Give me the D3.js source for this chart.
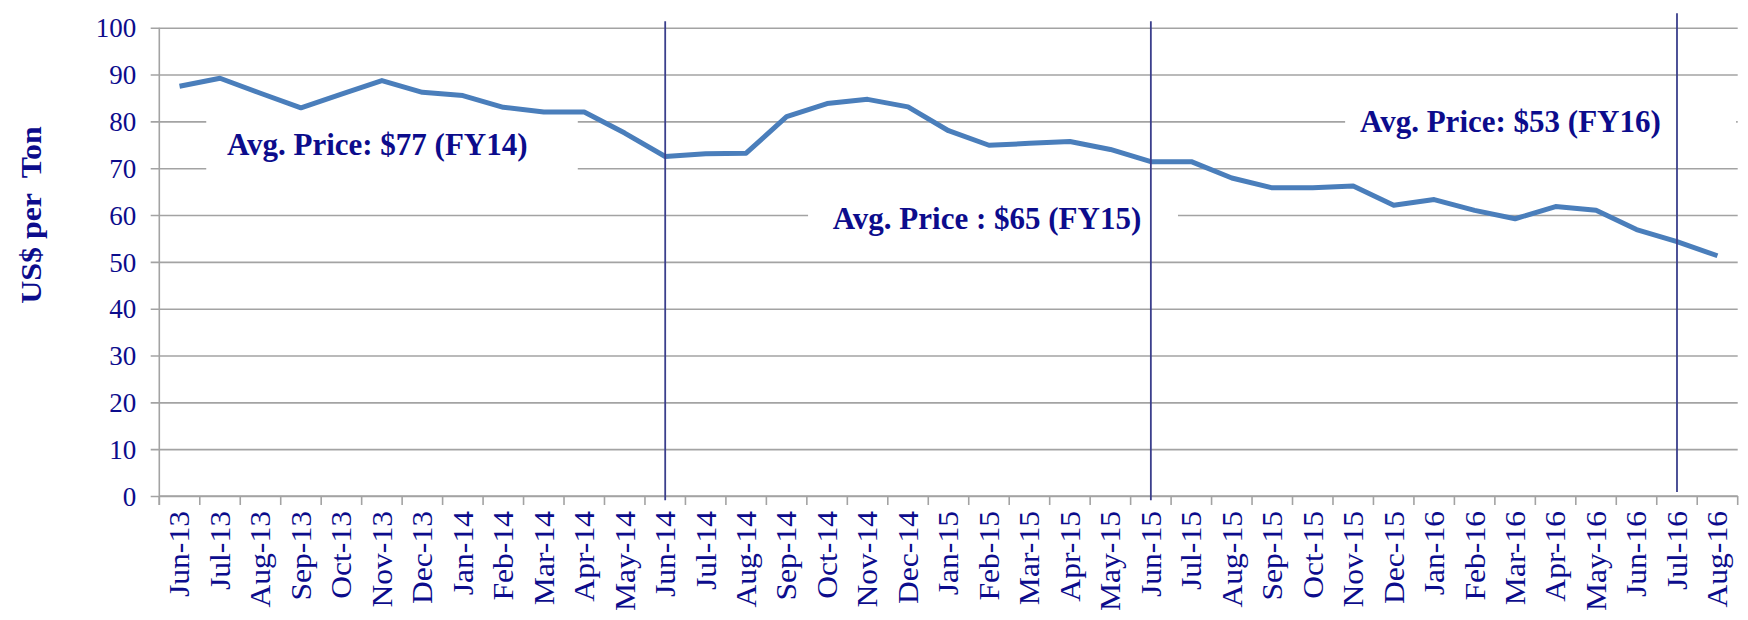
<!doctype html>
<html>
<head>
<meta charset="utf-8" />
<title>US$ per Ton</title>
<script src="https://cdn.jsdelivr.net/npm/d3@7/dist/d3.min.js"></script>
<style>
  body { margin: 0; background: #fff; }
  text { font-family: "Liberation Serif", "Times New Roman", serif; }
</style>
</head>
<body>
<script type="text/javascript">

 // monthly categories
 var months = ["Jun-13","Jul-13","Aug-13","Sep-13","Oct-13","Nov-13","Dec-13","Jan-14","Feb-14","Mar-14","Apr-14","May-14",
               "Jun-14","Jul-14","Aug-14","Sep-14","Oct-14","Nov-14","Dec-14","Jan-15","Feb-15","Mar-15","Apr-15","May-15",
               "Jun-15","Jul-15","Aug-15","Sep-15","Oct-15","Nov-15","Dec-15","Jan-16","Feb-16","Mar-16","Apr-16","May-16",
               "Jun-16","Jul-16","Aug-16"];

 // price, US$ per ton
 var price = [87.5, 89.2, 86.0, 82.9, 85.8, 88.7, 86.2, 85.5, 83.0, 82.0, 82.0, 77.5,
              72.5, 73.1, 73.2, 81.0, 83.8, 84.7, 83.1, 78.0, 74.9, 75.3, 75.7, 74.0,
              71.4, 71.4, 67.9, 65.8, 65.8, 66.2, 62.1, 63.3, 61.0, 59.2, 61.8, 61.0,
              56.9, 54.3, 51.3];

 var yTicks = [0, 10, 20, 30, 40, 50, 60, 70, 80, 90, 100];

 // fiscal year boundaries
 var fyMarks = ["Jun-14", "Jun-15", "Jul-16"];

 var avgLabels = ["Avg. Price: $77 (FY14)", "Avg. Price : $65 (FY15)", "Avg. Price: $53 (FY16)"];

 var w = 1748, h = 620;
 var pLeft = 159.3, pRight = 1737.7, pTop = 27.7, pBottom = 496;
 var navy = "#0c0c8c";

 var svg = d3.select("body").append("svg")
     .attr("width", w)
     .attr("height", h);

 var xScale = d3.scaleBand()
     .domain(months)
     .range([pLeft, pRight])
     .padding(0);

 // position along the axis in category units (for annotation placement)
 var uScale = d3.scaleLinear()
     .domain([0, months.length])
     .range([pLeft, pRight]);

 var yScale = d3.scaleLinear()
     .domain([0, 100])
     .range([pBottom, pTop]);

 // gridlines + y ticks
 svg.append("g")
    .attr("transform", "translate(" + pLeft + ",0)")
    .call(d3.axisLeft(yScale).tickValues(yTicks).tickSize(-(pRight - pLeft)).tickSizeOuter(0).tickPadding(0))
    .call(function(g){
        g.select(".domain").remove();
        g.selectAll(".tick line")
         .attr("x1", -8.6)
         .attr("stroke", "#a3a3a3")
         .attr("stroke-width", 1.6);
        g.selectAll(".tick text")
         .attr("x", -23)
         .attr("dy", "0.34em")
         .attr("fill", navy)
         .attr("font-size", "27px")
         .attr("font-family", "Liberation Serif, Times New Roman, serif");
    });

 // layout for the average price boxes (category units / price units)
 var boxes = [
     {u0: 1.16, u1: 10.34, v0: 68.5, v1: 81.0, tu: 1.67, tv: 72.8},
     {u0: 16.03, u1: 25.17, v0: 52.5, v1: 66.4, tu: 16.64, tv: 57.1},
     {u0: 29.30, u1: 38.96, v0: 73.9, v1: 85.6, tu: 29.67, tv: 77.8}
 ];

 svg.selectAll("rect.box")
    .data(boxes)
    .enter()
    .append("rect")
    .attr("class", "box")
    .attr("x", function(d){ return uScale(d.u0); })
    .attr("width", function(d){ return uScale(d.u1) - uScale(d.u0); })
    .attr("y", function(d){ return yScale(d.v1); })
    .attr("height", function(d){ return yScale(d.v0) - yScale(d.v1); })
    .attr("fill", "#fff");

 // y axis line
 svg.append("line")
    .attr("x1", pLeft).attr("x2", pLeft)
    .attr("y1", pTop).attr("y2", pBottom + 9)
    .attr("stroke", "#a3a3a3")
    .attr("stroke-width", 1.6);

 // x axis, ticks between categories
 var xEdges = d3.range(months.length + 1);
 svg.append("line")
    .attr("x1", pLeft).attr("x2", pRight)
    .attr("y1", pBottom).attr("y2", pBottom)
    .attr("stroke", "#a3a3a3")
    .attr("stroke-width", 1.6);
 svg.selectAll("line.xtick")
    .data(xEdges)
    .enter()
    .append("line")
    .attr("class", "xtick")
    .attr("x1", function(d){ return uScale(d); })
    .attr("x2", function(d){ return uScale(d); })
    .attr("y1", pBottom)
    .attr("y2", pBottom + 9)
    .attr("stroke", "#a3a3a3")
    .attr("stroke-width", 1.6);

 svg.selectAll("text.xlab")
    .data(months)
    .enter()
    .append("text")
    .attr("class", "xlab")
    .attr("transform", function(d){ return "translate(" + (xScale(d) + xScale.bandwidth() / 2) + "," + (pBottom + 15) + ") rotate(-90) scale(1.09,1)"; })
    .attr("dy", "0.34em")
    .attr("text-anchor", "end")
    .attr("fill", navy)
    .attr("font-size", "29px")
    .text(function(d){ return d; });

 // price line
 var line = d3.line()
     .x(function(d, i){ return xScale(months[i]) + xScale.bandwidth() / 2; })
     .y(function(d){ return yScale(d); });

 svg.append("path")
    .datum(price)
    .attr("d", line)
    .attr("fill", "none")
    .attr("stroke", "#4a7ebb")
    .attr("stroke-width", 5)
    .attr("stroke-linejoin", "round");

 // average price labels
 svg.selectAll("text.avg")
    .data(boxes)
    .enter()
    .append("text")
    .attr("class", "avg")
    .attr("x", function(d){ return uScale(d.tu); })
    .attr("y", function(d){ return yScale(d.tv); })
    .attr("fill", navy)
    .attr("font-weight", "bold")
    .attr("font-size", "31px")
    .text(function(d, i){ return avgLabels[i]; });

 // fiscal year separators
 var markTop = [101.4, 101.4, 103.1], markBottom = [-0.9, -0.9, 0.85];
 svg.selectAll("line.fy")
    .data(fyMarks)
    .enter()
    .append("line")
    .attr("class", "fy")
    .attr("x1", function(d){ return xScale(d) + xScale.bandwidth() / 2; })
    .attr("x2", function(d){ return xScale(d) + xScale.bandwidth() / 2; })
    .attr("y1", function(d, i){ return yScale(markTop[i]); })
    .attr("y2", function(d, i){ return yScale(markBottom[i]); })
    .attr("stroke", "#3b3f8c")
    .attr("stroke-width", 1.8);

 // y axis title
 svg.append("text")
    .attr("transform", "translate(31,215) rotate(-90) scale(1.1,1)")
    .attr("dy", "0.34em")
    .attr("text-anchor", "middle")
    .attr("fill", navy)
    .attr("font-weight", "bold")
    .attr("font-size", "29px")
    .style("white-space", "pre")
    .text("US$ per  Ton");

</script>
</body>
</html>
